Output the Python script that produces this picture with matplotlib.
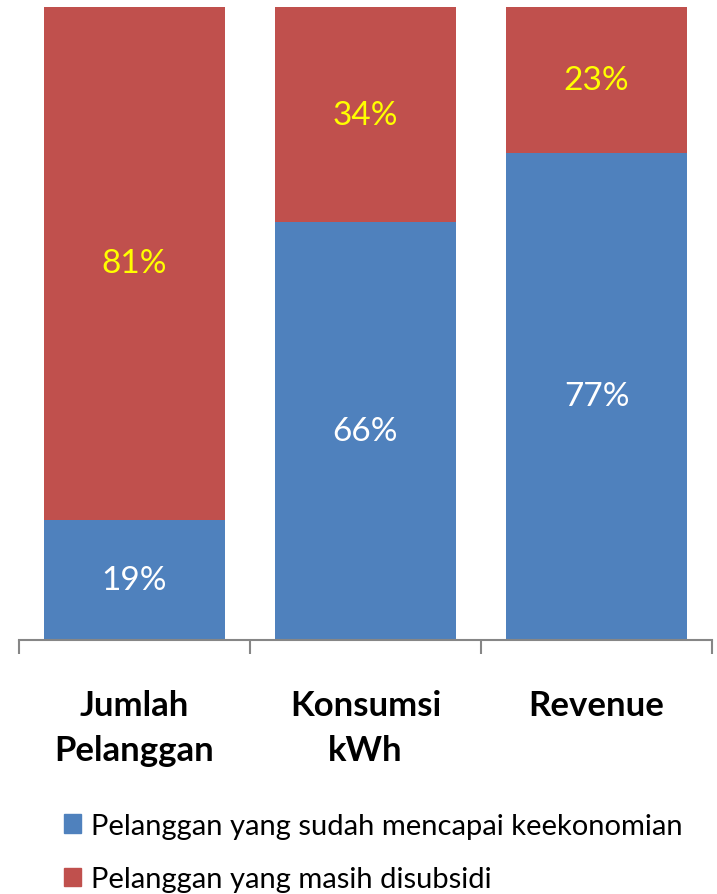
import matplotlib
matplotlib.use("Agg")
import matplotlib.pyplot as plt
from matplotlib.patches import Patch

kategori = ["Jumlah\nPelanggan", "Konsumsi\nkWh", "Revenue"]
sudah = [19, 66, 77]
disubsidi = [81, 34, 23]
label_sudah = "Pelanggan yang sudah mencapai keekonomian"
label_subsidi = "Pelanggan yang masih disubsidi"

biru = "#4F81BD"
merah = "#C0504D"
abu = "#868686"

plt.rcParams['font.family'] = ['Lato', 'DejaVu Sans']

fig = plt.figure(figsize=(7.17, 8.95), dpi=100)
ax = fig.add_axes([19 / 717, 1 - 641 / 895, 693 / 717, 633 / 895])

x = list(range(len(kategori)))
b1 = ax.bar(x, sudah, width=0.785, color=biru)
b2 = ax.bar(x, disubsidi, width=0.785, bottom=sudah, color=merah)

for s, v in zip(b1, sudah):
    ax.text(s.get_x() + s.get_width() / 2, v / 2, f"{v}%", ha='center', va='center',
            color='white', fontsize=24)
for s, v, b in zip(b2, disubsidi, sudah):
    ax.text(s.get_x() + s.get_width() / 2, b + v / 2, f"{v}%", ha='center', va='center',
            color='#FFFF00', fontsize=24)

ax.set_xlim(-0.5, len(kategori) - 0.5)
ax.set_ylim(0, 100)
for sp in ['top', 'left', 'right']:
    ax.spines[sp].set_visible(False)
ax.spines['bottom'].set_color(abu)
ax.spines['bottom'].set_linewidth(1.5)
ax.set_yticks([])
ax.set_xticks(x)
ax.set_xticklabels(kategori, fontsize=25, fontweight='bold', linespacing=1.5)
ax.tick_params(axis='x', which='major', length=0, pad=35)
ax.set_xticks([i - 0.5 for i in range(len(kategori) + 1)], minor=True)
ax.tick_params(axis='x', which='minor', length=10, width=1.5, color=abu)

handles = [Patch(color=biru, label=label_sudah), Patch(color=merah, label=label_subsidi)]
fig.legend(handles=handles, loc='upper left', bbox_to_anchor=(52 / 717, 1 - 802 / 895),
           frameon=False, fontsize=21, handlelength=0.6, handleheight=0.6,
           handletextpad=0.35, labelspacing=0.95, borderaxespad=0)

fig.savefig("out.png", dpi=100)
